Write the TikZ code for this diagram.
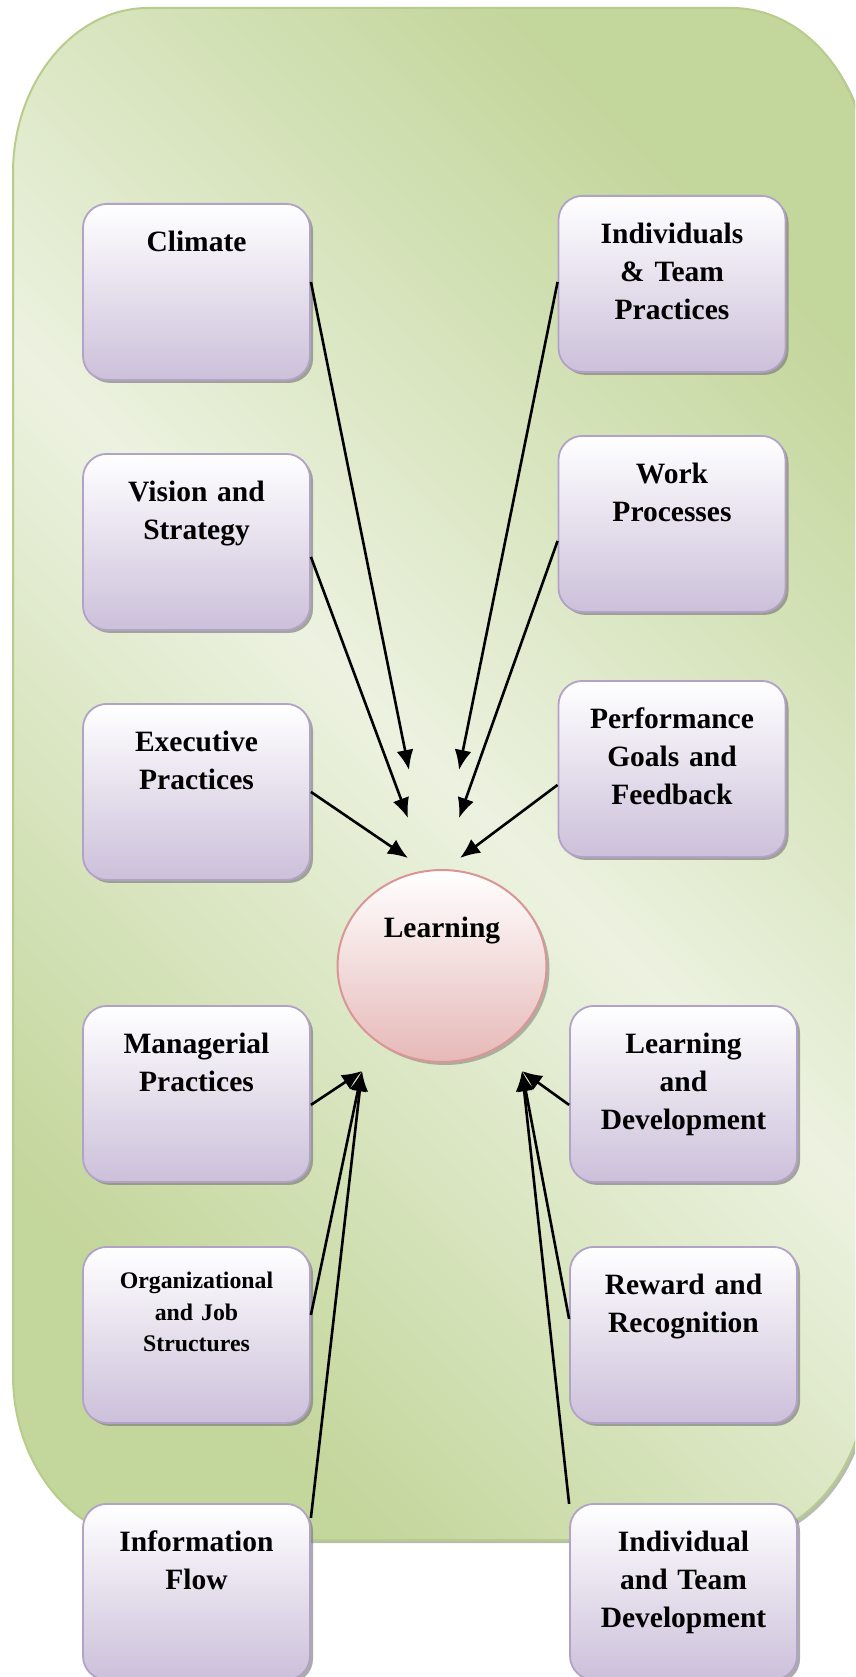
\documentclass[tikz,border=0pt]{standalone}
\usepackage{fontspec}
\setmainfont{Liberation Serif}
\usetikzlibrary{shapes.geometric,shadows,arrows.meta}

\definecolor{bgdark}{RGB}{195,214,155}
\definecolor{bglight}{RGB}{236,242,224}
\definecolor{bgline}{RGB}{184,204,140}
\definecolor{boxfill}{RGB}{204,192,218}
\definecolor{boxline}{RGB}{179,162,199}
\definecolor{hubfill}{RGB}{230,185,184}
\definecolor{hubline}{RGB}{217,150,148}

\tikzset{
  factor/.style={rectangle, rounded corners=24pt, draw=boxline, line width=1.8pt,
    drop shadow={shadow xshift=3pt, shadow yshift=-3pt, opacity=.6, fill=black!55},
    top color=white, bottom color=boxfill, anchor=north,
    text width=200pt, align=center, minimum width=227pt,
    text height=22pt, text depth=102pt, inner ysep=26pt,
    font=\bfseries\fontsize{29.5}{38}\selectfont},
  smalltext/.style={font=\bfseries\fontsize{23.8}{31.5}\selectfont,
    text height=16pt, text depth=108pt},
  hub/.style={ellipse, draw=hubline, line width=2pt,
    drop shadow={shadow xshift=3pt, shadow yshift=-3pt, opacity=.5, fill=black!55},
    top color=white, bottom color=hubfill,
    minimum width=209pt, minimum height=192pt, text height=20pt, text depth=78pt,
    font=\bfseries\fontsize{29.5}{38}\selectfont},
  arr/.style={line width=2.6pt, -{Latex[length=20pt,width=17pt]}}
}

\begin{document}
\begin{tikzpicture}[x=1pt,y=-1pt]
\useasboundingbox (0,0) rectangle (855,1677);
\clip (0,0) rectangle (855,1677);
% background panel
\path[draw=bgline, line width=2pt,
  drop shadow={shadow xshift=3pt, shadow yshift=-3pt, opacity=.45, fill=black!50!bgdark},
  top color=bgdark, bottom color=bgdark, middle color=bglight, shading angle=-45]
  (148,8) -- (732,8) .. controls (806,8) and (867,82) .. (867,173)
  -- (867,1375) .. controls (867,1466) and (806,1540) .. (732,1540)
  -- (148,1540) .. controls (74,1540) and (13,1466) .. (13,1375)
  -- (13,173) .. controls (13,82) and (74,8) .. (148,8) -- cycle;

\foreach \name/\opt/\y/\txt in {climate//203/{Climate},
    vision//453/{Vision and\\Strategy},
    exec//703/{Executive\\Practices},
    manag//1005/{Managerial\\Practices},
    orgjob/smalltext/1246/{Organizational\\and Job\\Structures},
    info//1503/{Information\\Flow}} % edit here for the left boxes
  \node[factor,\opt] (\name) at (196.5,\y) {\txt};

\foreach \name/\x/\y/\txt in {indiv/672/195/{Individuals\\\& Team\\Practices},
    work/672/435/{Work\\Processes},
    perf/672/680/{Performance\\Goals and\\Feedback},
    learndev/683.5/1005/{Learning\\and\\Development},
    reward/683.5/1246/{Reward and\\Recognition},
    teamdev/683.5/1503/{Individual\\and Team\\Development}} % edit here for the right boxes
  \node[factor] (\name) at (\x,\y) {\txt};

\node[hub] (learning) at (442,966) {Learning};

% arrow targets
\coordinate (cA) at (409,770);
\coordinate (cB) at (408,818);
\coordinate (cC) at (408,858);
\coordinate (cD) at (459,770);
\coordinate (cE) at (459,818);
\coordinate (cF) at (460,858);
\coordinate (cG) at (362,1071);
\coordinate (cH) at (522,1071);

\foreach \src/\dy/\dst in {climate.east/10/cA, vision.east/-15/cB, exec.east/0/cC,
    indiv.west/2/cD, work.west/-17/cE, perf.west/-16/cF,
    manag.east/-11/cG, orgjob.east/20/cG, info.east/74/cG,
    learndev.west/-11/cH, reward.west/16/cH, teamdev.west/88/cH} % edit here for the arrows
  \draw[arr] ([yshift=\dy pt]\src) -- (\dst);
\end{tikzpicture}
\end{document}
